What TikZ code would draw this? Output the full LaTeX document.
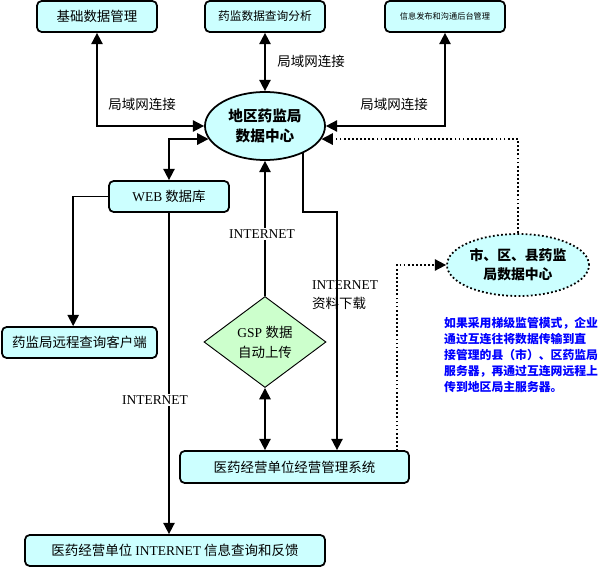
\documentclass[tikz,border=0pt]{standalone}
\usepackage{fontspec}
\setmainfont{Liberation Serif}
\newfontfamily\zh{Noto Sans CJK SC}
\usetikzlibrary{arrows.meta,shapes.geometric}
\definecolor{qianqing}{HTML}{CCFFFF}
\definecolor{qianlv}{HTML}{CCFFCC}
\definecolor{shenlan}{HTML}{0000FF}
\tikzset{
  kuang/.style={rectangle, rounded corners=4pt, draw=black, fill=qianqing, line width=1.5pt,
    minimum width=3.6cm, minimum height=0.93cm, inner sep=2pt, font=\zh\fontsize{11.5}{14}\selectfont},
  zhongxin/.style={ellipse, draw=black, fill=qianqing, line width=1.5pt, inner sep=0pt,
    align=center, font=\zh\bfseries\fontsize{12.5}{17}\selectfont},
  panduan/.style={diamond, draw=black, fill=qianlv, line width=0.8pt, inner sep=0pt,
    minimum width=3.66cm, minimum height=2.73cm, align=center, font=\fontsize{11.5}{17}\selectfont},
  biaoqian/.style={inner sep=1pt, font=\zh\fontsize{11.5}{14}\selectfont},
  wang/.style={fill=white, inner sep=1pt, font=\fontsize{11.5}{13}\selectfont},
  lian/.style={line width=1.5pt, -{Triangle[length=3.4mm, width=3.4mm]}},
  shuang/.style={line width=1.5pt, {Triangle[length=3.4mm, width=3.4mm]}-{Triangle[length=3.4mm, width=3.4mm]}},
  xu/.style={line width=1.5pt, dotted, -{Triangle[length=3.4mm, width=3.4mm]}},
}

\begin{document}
\begin{tikzpicture}[x=0.03cm, y=-0.03cm]
  \useasboundingbox (0,0) rectangle (603,569);

  % ---------------- top row ----------------
  \node[kuang] (jichu) at (97,16.5) {基础数据管理};
  \node[kuang, font=\zh\fontsize{10}{12}\selectfont] (chaxun) at (265,16.5) {药监数据查询分析};
  \node[kuang, font=\zh\fontsize{7}{8}\selectfont] (xinxi) at (445,16.5) {信息发布和沟通后台管理};

  % ---------------- centres ----------------
  \node[zhongxin, minimum width=3.6cm, minimum height=2.04cm] (diqu) at (265,126) {地区药监局\\数据中心};
  \node[zhongxin, dotted, minimum width=4.26cm, minimum height=1.86cm,
    font=\zh\bfseries\fontsize{11.8}{16}\selectfont] (shiqu) at (518,265) {市、区、县药监\\局数据中心};

  % ---------------- left branch ----------------
  \node[kuang] (web) at (169,196.5) {{\rmfamily WEB} 数据库};
  \node[kuang, minimum width=4.65cm] (kehu) at (79.5,342.5) {药监局远程查询客户端};
  \node[kuang, minimum width=9cm] (fankui) at (175,550.5) {医药经营单位 {\rmfamily INTERNET} 信息查询和反馈};

  % ---------------- enterprise side ----------------
  \node[panduan] (gsp) at (265,342) {GSP {\zh 数据}\\{\zh 自动上传}};
  \node[kuang, minimum width=6.87cm, minimum height=0.96cm] (xitong) at (294.5,467) {医药经营单位经营管理系统};
  \coordinate (xiazai) at (337,212);
  \coordinate (jieru) at (397,451);

  % ---------------- connectors ----------------
  \draw[shuang] (jichu.south) |- (diqu.west);
  \draw[shuang] (chaxun.south) -- (diqu.north);
  \draw[shuang] (xinxi.south) |- (diqu.east);
  \draw[xu] (shiqu.north) |- (diqu.-13);
  \draw[shuang] (web.north) |- (diqu.193);
  \draw[lian] (web.west) -| ([xshift=-0.19cm]kehu.north);
  \draw[lian] (web.south) -- (web.south |- fankui.north);
  \draw[lian] (gsp.north) -- (diqu.south);
  \draw[shuang] (gsp.south) -- (gsp.south |- xitong.north);
  \draw[lian] (diqu.-36) |- (xiazai) -- (xiazai |- xitong.north);
  \draw[xu] (jieru) |- (shiqu.west);

  % ---------------- labels ----------------
  \node[biaoqian, anchor=west] (lan1) at (107,104) {局域网连接};
  \node[biaoqian, anchor=west] (lan2) at (276,61) {局域网连接};
  \node[biaoqian, anchor=west] (lan3) at (359,104) {局域网连接};
  \node[wang] (net1) at (262,234) {INTERNET};
  \node[wang] (net2) at (155,400) {INTERNET};
  \node[anchor=west, inner sep=0pt, align=left, font=\fontsize{11.5}{16}\selectfont] (net3) at (312,295)
    {INTERNET\\{\zh 资料下载}};
  \node[anchor=north west, inner sep=0pt, align=left, text=shenlan,
    font=\zh\bfseries\fontsize{10.1}{13.6}\selectfont] (shuoming) at (444,317)
    {如果采用梯级监管模式，企业\\通过互连往将数据传输到直\\接管理的县（市）、区药监局\\服务器，再通过互连网远程上\\传到地区局主服务器。};
\end{tikzpicture}
\end{document}
